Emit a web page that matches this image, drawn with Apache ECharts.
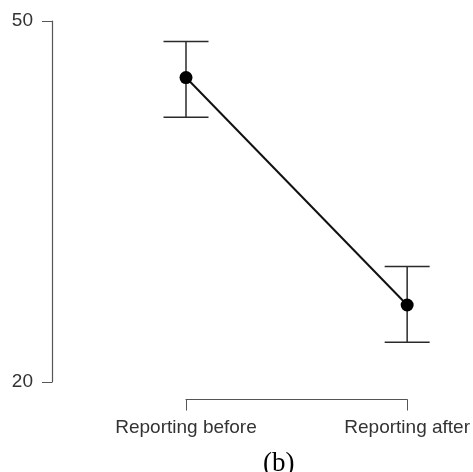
<!DOCTYPE html>
<html>
<head>
<meta charset="utf-8">
<script src="https://cdn.jsdelivr.net/npm/echarts@6/dist/echarts.min.js"></script>
<style>
html,body{margin:0;padding:0;background:#fff;}
#chart{width:473px;height:472px;}
</style>
</head>
<body>
<div id="chart"></div>
<script>
var categories = ['Reporting before', 'Reporting after'];
var means = [45.3, 26.4];
var upper = [48.3, 29.6];
var lower = [42.0, 23.3];
var yTicks = [20, 50];

var chart = echarts.init(document.getElementById('chart'), null, {renderer: 'canvas'});

var errData = categories.map(function (c, i) { return [i, lower[i], upper[i]]; });

chart.setOption({
  animation: false,
  backgroundColor: '#ffffff',
  grid: {left: 186, right: 62, top: 21, bottom: 90, containLabel: false},
  xAxis: {
    type: 'category',
    data: categories,
    boundaryGap: false,
    offset: 17.5,
    axisLine: {show: true, lineStyle: {color: '#555', width: 1.2}},
    axisTick: {show: true, length: 11, alignWithLabel: true, lineStyle: {color: '#555'}},
    axisLabel: {interval: 0, margin: 19, fontSize: 19, color: '#333', fontFamily: 'Liberation Sans, Arial, sans-serif'},
    splitLine: {show: false}
  },
  yAxis: {
    type: 'value',
    min: yTicks[0],
    max: yTicks[1],
    interval: yTicks[1] - yTicks[0],
    offset: 134,
    axisLine: {show: true, lineStyle: {color: '#555', width: 1.2}},
    axisTick: {show: true, length: 10, lineStyle: {color: '#555'}},
    axisLabel: {margin: 19, fontSize: 19, color: '#333', fontFamily: 'Liberation Sans, Arial, sans-serif', showMinLabel: true, showMaxLabel: true},
    splitLine: {show: false}
  },
  series: [
    {
      type: 'custom',
      clip: false,
      z: 1,
      data: errData,
      renderItem: function (params, api) {
        var x = api.value(0);
        var lo = api.coord([x, api.value(1)]);
        var hi = api.coord([x, api.value(2)]);
        var hw = 22.5;
        var style = {stroke: '#2a2a2a', lineWidth: 1.5, fill: null};
        return {
          type: 'group',
          children: [
            {type: 'line', shape: {x1: lo[0], y1: lo[1], x2: hi[0], y2: hi[1]}, style: style},
            {type: 'line', shape: {x1: hi[0] - hw, y1: hi[1], x2: hi[0] + hw, y2: hi[1]}, style: style},
            {type: 'line', shape: {x1: lo[0] - hw, y1: lo[1], x2: lo[0] + hw, y2: lo[1]}, style: style}
          ]
        };
      }
    },
    {
      type: 'line',
      z: 3,
      data: means,
      symbol: 'circle',
      symbolSize: 13,
      itemStyle: {color: '#000'},
      lineStyle: {color: '#111', width: 2},
      clip: false
    }
  ],
  graphic: [
    {
      type: 'text',
      left: 263,
      top: 450,
      style: {text: '(b)', fontSize: 27, fontFamily: 'Liberation Serif, Times New Roman, serif', fill: '#000'}
    }
  ]
});
</script>
</body>
</html>
